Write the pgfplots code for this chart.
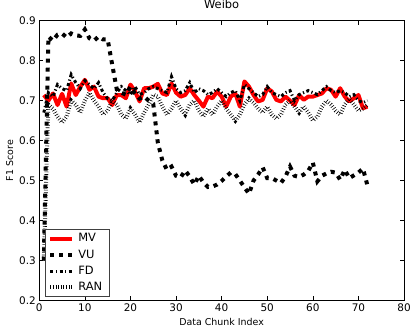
\documentclass[border=0pt]{standalone}
\usepackage{fontspec}
\setmainfont{DejaVu Sans}
\usepackage{pgfplots}
\pgfplotsset{compat=1.18}
\usetikzlibrary{calc}
\begin{document}
\begin{tikzpicture}
\begin{axis}[
  scale only axis, width=365bp, height=280bp,
  xmin=0, xmax=80, ymin=0.2, ymax=0.9,
  xtick={0,10,...,80}, ytick={0.2,0.3,...,0.9},
  /pgf/number format/assume math mode=true,
  yticklabel style={/pgf/number format/fixed,/pgf/number format/precision=1,/pgf/number format/fixed zerofill},
  tick label style={font=\fontsize{10.5}{12}\selectfont},
  tick style={black, line width=0.6bp},
  major tick length=4bp,
  axis line style={line width=0.8bp},
  title={Weibo},
  title style={at={(axis description cs:0.5,1.038)}, anchor=center, font=\fontsize{11.5}{13}\selectfont},
  xlabel={Data Chunk Index},
  xlabel style={at={(axis description cs:0.5,-0.076)}, anchor=center, font=\fontsize{9.5}{11}\selectfont},
  ylabel={F1 Score},
  ylabel style={at={(axis description cs:-0.081,0.5)}, anchor=center, rotate=0, font=\fontsize{9.5}{11}\selectfont},
  legend style={at={(rel axis cs:0.0156,0.0132)}, anchor=south west, font=\fontsize{11.5}{13}\selectfont,
    draw=black!75, line width=0.8bp, inner xsep=3bp, inner ysep=2bp, row sep=2.5bp,
    nodes={inner xsep=4bp}},
  legend cell align=left,
  legend image code/.code={\draw[#1] (0bp,0bp) -- (22bp,0bp);},
]
\coordinate (bl) at (rel axis cs:0,0);
\coordinate (tr) at (rel axis cs:1,1);
% MV
\addplot[red, line width=4bp, line join=round] coordinates {
(1,0.714)(2,0.700)(3,0.718)(4,0.689)(5,0.717)(6,0.685)(7,0.743)(8,0.714)(9,0.735)(10,0.752)
(11,0.727)(12,0.735)(13,0.710)(14,0.706)(15,0.706)(16,0.689)(17,0.714)(18,0.714)(19,0.706)(20,0.740)
(21,0.723)(22,0.698)(23,0.731)(24,0.731)(25,0.735)(26,0.742)(27,0.718)(28,0.714)(29,0.743)(30,0.720)
(31,0.710)(32,0.714)(33,0.731)(34,0.714)(35,0.700)(36,0.685)(37,0.710)(38,0.706)(39,0.723)(40,0.710)
(41,0.685)(42,0.710)(43,0.718)(44,0.685)(45,0.748)(46,0.735)(47,0.714)(48,0.698)(49,0.702)(50,0.731)
(51,0.723)(52,0.702)(53,0.698)(54,0.710)(55,0.700)(56,0.689)(57,0.714)(58,0.702)(59,0.710)(60,0.710)
(61,0.714)(62,0.718)(63,0.731)(64,0.727)(65,0.710)(66,0.731)(67,0.710)(68,0.698)(69,0.706)(70,0.714)
(71,0.681)(72,0.685)};
\addlegendentry{MV}
% VU
\addplot[black, line width=4bp, dash pattern=on 4bp off 5bp] coordinates {
(1,0.300)(2,0.860)(3,0.850)(4,0.865)(5,0.868)(6,0.858)(7,0.868)(8,0.863)(9,0.862)(10,0.878)
(11,0.856)(12,0.850)(13,0.860)(14,0.853)(15,0.853)(16,0.790)(17,0.728)(18,0.720)(19,0.715)(20,0.735)
(21,0.718)(22,0.705)(23,0.710)(24,0.700)(25,0.692)(26,0.595)(27,0.550)(28,0.527)(29,0.535)(30,0.512)
(31,0.508)(32,0.525)(33,0.510)(34,0.490)(35,0.512)(36,0.495)(37,0.484)(38,0.485)(39,0.490)(40,0.499)
(41,0.510)(42,0.520)(43,0.516)(44,0.500)(45,0.483)(46,0.467)(47,0.500)(48,0.515)(49,0.533)(50,0.506)
(51,0.506)(52,0.500)(53,0.494)(54,0.510)(55,0.535)(56,0.512)(57,0.509)(58,0.515)(59,0.524)(60,0.545)
(61,0.498)(62,0.512)(63,0.518)(64,0.522)(65,0.520)(66,0.502)(67,0.527)(68,0.506)(69,0.513)(70,0.520)
(71,0.530)(72,0.487)};
\addlegendentry{VU}
% FD
\addplot[black, line width=3bp, dash pattern=on 3bp off 2.5bp on 1.2bp off 2.5bp] coordinates {
(1,0.670)(2,0.720)(3,0.710)(4,0.740)(5,0.730)(6,0.725)(7,0.765)(8,0.745)(9,0.730)(10,0.750)
(11,0.740)(12,0.730)(13,0.745)(14,0.720)(15,0.705)(16,0.700)(17,0.720)(18,0.735)(19,0.725)(20,0.715)
(21,0.735)(22,0.715)(23,0.720)(24,0.730)(25,0.735)(26,0.730)(27,0.725)(28,0.720)(29,0.760)(30,0.730)
(31,0.720)(32,0.725)(33,0.745)(34,0.720)(35,0.730)(36,0.725)(37,0.715)(38,0.720)(39,0.730)(40,0.720)
(41,0.710)(42,0.720)(43,0.725)(44,0.700)(45,0.740)(46,0.730)(47,0.720)(48,0.710)(49,0.715)(50,0.735)
(51,0.720)(52,0.715)(53,0.710)(54,0.720)(55,0.725)(56,0.700)(57,0.715)(58,0.720)(59,0.725)(60,0.720)
(61,0.715)(62,0.725)(63,0.735)(64,0.725)(65,0.720)(66,0.725)(67,0.720)(68,0.710)(69,0.715)(70,0.700)
(71,0.695)(72,0.700)};
\addlegendentry{FD}
% RAN
\addplot[black, line width=4bp, dash pattern=on 0.6bp off 2bp] coordinates {
(1,0.300)(2,0.690)(3,0.680)(4,0.660)(5,0.645)(6,0.660)(7,0.700)(8,0.690)(9,0.670)(10,0.700)
(11,0.720)(12,0.700)(13,0.685)(14,0.665)(15,0.675)(16,0.700)(17,0.690)(18,0.665)(19,0.655)(20,0.680)
(21,0.665)(22,0.645)(23,0.670)(24,0.690)(25,0.715)(26,0.710)(27,0.685)(28,0.665)(29,0.680)(30,0.700)
(31,0.680)(32,0.665)(33,0.690)(34,0.700)(35,0.675)(36,0.660)(37,0.680)(38,0.665)(39,0.685)(40,0.700)
(41,0.680)(42,0.665)(43,0.650)(44,0.665)(45,0.690)(46,0.705)(47,0.695)(48,0.680)(49,0.670)(50,0.685)
(51,0.665)(52,0.655)(53,0.665)(54,0.690)(55,0.700)(56,0.685)(57,0.670)(58,0.685)(59,0.670)(60,0.650)
(61,0.660)(62,0.685)(63,0.700)(64,0.690)(65,0.675)(66,0.665)(67,0.690)(68,0.705)(69,0.690)(70,0.675)
(71,0.680)(72,0.690)};
\addlegendentry{RAN}
\end{axis}
\pgfresetboundingbox
\path[use as bounding box] ($(bl)+(-39.3bp,-28.3bp)$) rectangle ($(tr)+(7bp,20.7bp)$);
\end{tikzpicture}
\end{document}
